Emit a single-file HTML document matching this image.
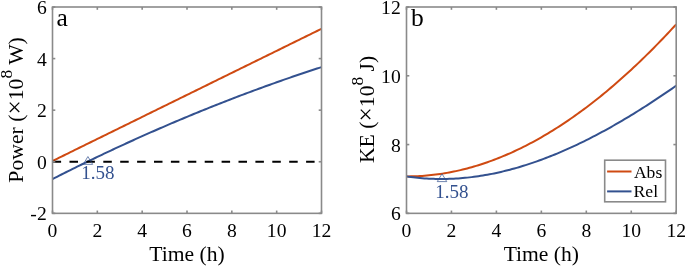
<!DOCTYPE html>
<html><head><meta charset="utf-8"><style>
html,body{margin:0;padding:0;background:#fff;width:685px;height:267px;overflow:hidden;}
svg{display:block;will-change:transform;}
</style></head><body>
<svg width="685" height="267" viewBox="0 0 685 267">
<path d="M52.50 160.99 L54.74 159.89 L56.98 158.79 L59.23 157.68 L61.47 156.58 L63.71 155.48 L65.95 154.38 L68.19 153.28 L70.43 152.18 L72.67 151.07 L74.92 149.97 L77.16 148.87 L79.40 147.77 L81.64 146.67 L83.88 145.57 L86.12 144.46 L88.37 143.36 L90.61 142.26 L92.85 141.16 L95.09 140.06 L97.33 138.96 L99.58 137.85 L101.82 136.75 L104.06 135.65 L106.30 134.55 L108.54 133.45 L110.78 132.35 L113.03 131.25 L115.27 130.14 L117.51 129.04 L119.75 127.94 L121.99 126.84 L124.23 125.74 L126.48 124.64 L128.72 123.53 L130.96 122.43 L133.20 121.33 L135.44 120.23 L137.68 119.13 L139.93 118.03 L142.17 116.92 L144.41 115.82 L146.65 114.72 L148.89 113.62 L151.13 112.52 L153.38 111.42 L155.62 110.31 L157.86 109.21 L160.10 108.11 L162.34 107.01 L164.58 105.91 L166.83 104.81 L169.07 103.71 L171.31 102.60 L173.55 101.50 L175.79 100.40 L178.03 99.30 L180.28 98.20 L182.52 97.10 L184.76 95.99 L187.00 94.89 L189.24 93.79 L191.48 92.69 L193.73 91.59 L195.97 90.49 L198.21 89.38 L200.45 88.28 L202.69 87.18 L204.93 86.08 L207.18 84.98 L209.42 83.88 L211.66 82.77 L213.90 81.67 L216.14 80.57 L218.38 79.47 L220.62 78.37 L222.87 77.27 L225.11 76.16 L227.35 75.06 L229.59 73.96 L231.83 72.86 L234.07 71.76 L236.32 70.66 L238.56 69.56 L240.80 68.45 L243.04 67.35 L245.28 66.25 L247.53 65.15 L249.77 64.05 L252.01 62.95 L254.25 61.84 L256.49 60.74 L258.73 59.64 L260.98 58.54 L263.22 57.44 L265.46 56.34 L267.70 55.23 L269.94 54.13 L272.18 53.03 L274.43 51.93 L276.67 50.83 L278.91 49.73 L281.15 48.62 L283.39 47.52 L285.63 46.42 L287.88 45.32 L290.12 44.22 L292.36 43.12 L294.60 42.02 L296.84 40.91 L299.08 39.81 L301.33 38.71 L303.57 37.61 L305.81 36.51 L308.05 35.41 L310.29 34.30 L312.53 33.20 L314.78 32.10 L317.02 31.00 L319.26 29.90 L321.50 28.80" fill="none" stroke="#CF4A12" stroke-width="2.00"/>
<path d="M52.50 179.04 L54.74 177.91 L56.98 176.77 L59.23 175.64 L61.47 174.51 L63.71 173.38 L65.95 172.26 L68.19 171.14 L70.43 170.03 L72.67 168.92 L74.92 167.81 L77.16 166.70 L79.40 165.60 L81.64 164.51 L83.88 163.41 L86.12 162.32 L88.37 161.23 L90.61 160.15 L92.85 159.07 L95.09 157.99 L97.33 156.92 L99.58 155.85 L101.82 154.78 L104.06 153.72 L106.30 152.66 L108.54 151.61 L110.78 150.55 L113.03 149.50 L115.27 148.46 L117.51 147.42 L119.75 146.38 L121.99 145.34 L124.23 144.31 L126.48 143.28 L128.72 142.26 L130.96 141.24 L133.20 140.22 L135.44 139.21 L137.68 138.19 L139.93 137.19 L142.17 136.18 L144.41 135.18 L146.65 134.19 L148.89 133.19 L151.13 132.20 L153.38 131.22 L155.62 130.23 L157.86 129.25 L160.10 128.28 L162.34 127.30 L164.58 126.33 L166.83 125.37 L169.07 124.41 L171.31 123.45 L173.55 122.49 L175.79 121.54 L178.03 120.59 L180.28 119.65 L182.52 118.71 L184.76 117.77 L187.00 116.83 L189.24 115.90 L191.48 114.97 L193.73 114.05 L195.97 113.13 L198.21 112.21 L200.45 111.30 L202.69 110.39 L204.93 109.48 L207.18 108.58 L209.42 107.68 L211.66 106.78 L213.90 105.89 L216.14 105.00 L218.38 104.11 L220.62 103.23 L222.87 102.35 L225.11 101.48 L227.35 100.60 L229.59 99.73 L231.83 98.87 L234.07 98.01 L236.32 97.15 L238.56 96.29 L240.80 95.44 L243.04 94.59 L245.28 93.75 L247.53 92.91 L249.77 92.07 L252.01 91.24 L254.25 90.41 L256.49 89.58 L258.73 88.76 L260.98 87.94 L263.22 87.12 L265.46 86.31 L267.70 85.50 L269.94 84.69 L272.18 83.89 L274.43 83.09 L276.67 82.29 L278.91 81.50 L281.15 80.71 L283.39 79.92 L285.63 79.14 L287.88 78.36 L290.12 77.59 L292.36 76.82 L294.60 76.05 L296.84 75.28 L299.08 74.52 L301.33 73.77 L303.57 73.01 L305.81 72.26 L308.05 71.51 L310.29 70.77 L312.53 70.03 L314.78 69.29 L317.02 68.56 L319.26 67.83 L321.50 67.10" fill="none" stroke="#33518F" stroke-width="2.00"/>
<line x1="52.60" y1="161.76" x2="321.50" y2="161.76" stroke="#000" stroke-width="2.2" stroke-dasharray="8.5 8.4"/>
<path d="M87.92 156.56 L92.67 164.36 L83.17 164.36 Z" fill="none" stroke="#33518F" stroke-width="0.70"/>
<text x="81.3" y="178.8" style="font-family:'Liberation Serif',serif;font-size:19.00px" fill="#33518F">1.58</text>
<path d="M406.50 176.38 L408.75 176.38 L411.00 176.35 L413.24 176.30 L415.49 176.23 L417.74 176.14 L419.99 176.02 L422.23 175.88 L424.48 175.72 L426.73 175.54 L428.98 175.33 L431.22 175.10 L433.47 174.85 L435.72 174.58 L437.97 174.28 L440.21 173.97 L442.46 173.63 L444.71 173.27 L446.96 172.88 L449.20 172.48 L451.45 172.05 L453.70 171.60 L455.94 171.13 L458.19 170.63 L460.44 170.12 L462.69 169.58 L464.94 169.02 L467.18 168.44 L469.43 167.83 L471.68 167.21 L473.93 166.56 L476.17 165.89 L478.42 165.21 L480.67 164.49 L482.92 163.76 L485.16 163.01 L487.41 162.23 L489.66 161.43 L491.91 160.62 L494.15 159.78 L496.40 158.91 L498.65 158.03 L500.90 157.13 L503.14 156.20 L505.39 155.26 L507.64 154.29 L509.89 153.30 L512.13 152.29 L514.38 151.26 L516.63 150.21 L518.88 149.14 L521.12 148.05 L523.37 146.93 L525.62 145.80 L527.87 144.64 L530.11 143.47 L532.36 142.27 L534.61 141.05 L536.86 139.82 L539.10 138.56 L541.35 137.28 L543.60 135.98 L545.85 134.66 L548.09 133.32 L550.34 131.96 L552.59 130.57 L554.84 129.17 L557.08 127.75 L559.33 126.31 L561.58 124.85 L563.83 123.36 L566.07 121.86 L568.32 120.34 L570.57 118.79 L572.82 117.23 L575.06 115.65 L577.31 114.04 L579.56 112.42 L581.81 110.78 L584.05 109.12 L586.30 107.43 L588.55 105.73 L590.80 104.01 L593.04 102.27 L595.29 100.51 L597.54 98.72 L599.79 96.92 L602.03 95.10 L604.28 93.26 L606.53 91.40 L608.78 89.53 L611.02 87.63 L613.27 85.71 L615.52 83.77 L617.77 81.82 L620.01 79.84 L622.26 77.85 L624.51 75.83 L626.76 73.80 L629.00 71.75 L631.25 69.68 L633.50 67.59 L635.75 65.48 L637.99 63.35 L640.24 61.20 L642.49 59.04 L644.74 56.85 L646.98 54.65 L649.23 52.43 L651.48 50.19 L653.73 47.93 L655.97 45.65 L658.22 43.35 L660.47 41.04 L662.72 38.70 L664.96 36.35 L667.21 33.98 L669.46 31.59 L671.71 29.18 L673.95 26.76 L676.20 24.31" fill="none" stroke="#CF4A12" stroke-width="2.00"/>
<path d="M406.50 176.38 L408.75 176.71 L411.00 177.02 L413.24 177.31 L415.49 177.57 L417.74 177.81 L419.99 178.03 L422.23 178.22 L424.48 178.40 L426.73 178.55 L428.98 178.68 L431.22 178.79 L433.47 178.87 L435.72 178.94 L437.97 178.98 L440.21 179.00 L442.46 179.00 L444.71 178.98 L446.96 178.94 L449.20 178.87 L451.45 178.79 L453.70 178.68 L455.94 178.56 L458.19 178.41 L460.44 178.25 L462.69 178.06 L464.94 177.86 L467.18 177.63 L469.43 177.38 L471.68 177.12 L473.93 176.83 L476.17 176.53 L478.42 176.20 L480.67 175.86 L482.92 175.50 L485.16 175.11 L487.41 174.71 L489.66 174.29 L491.91 173.86 L494.15 173.40 L496.40 172.92 L498.65 172.43 L500.90 171.92 L503.14 171.39 L505.39 170.84 L507.64 170.27 L509.89 169.69 L512.13 169.09 L514.38 168.47 L516.63 167.84 L518.88 167.18 L521.12 166.51 L523.37 165.83 L525.62 165.12 L527.87 164.40 L530.11 163.66 L532.36 162.91 L534.61 162.14 L536.86 161.35 L539.10 160.55 L541.35 159.73 L543.60 158.90 L545.85 158.04 L548.09 157.18 L550.34 156.30 L552.59 155.40 L554.84 154.49 L557.08 153.56 L559.33 152.61 L561.58 151.66 L563.83 150.68 L566.07 149.70 L568.32 148.69 L570.57 147.68 L572.82 146.64 L575.06 145.60 L577.31 144.54 L579.56 143.47 L581.81 142.38 L584.05 141.28 L586.30 140.16 L588.55 139.03 L590.80 137.89 L593.04 136.73 L595.29 135.56 L597.54 134.38 L599.79 133.19 L602.03 131.98 L604.28 130.76 L606.53 129.53 L608.78 128.28 L611.02 127.02 L613.27 125.75 L615.52 124.47 L617.77 123.17 L620.01 121.87 L622.26 120.55 L624.51 119.22 L626.76 117.88 L629.00 116.53 L631.25 115.16 L633.50 113.79 L635.75 112.40 L637.99 111.00 L640.24 109.59 L642.49 108.18 L644.74 106.75 L646.98 105.31 L649.23 103.86 L651.48 102.39 L653.73 100.92 L655.97 99.44 L658.22 97.95 L660.47 96.45 L662.72 94.94 L664.96 93.42 L667.21 91.89 L669.46 90.35 L671.71 88.81 L673.95 87.25 L676.20 85.68" fill="none" stroke="#33518F" stroke-width="2.00"/>
<path d="M442.01 173.80 L446.76 181.60 L437.26 181.60 Z" fill="none" stroke="#33518F" stroke-width="0.70"/>
<text x="435.3" y="198.3" style="font-family:'Liberation Serif',serif;font-size:19.00px" fill="#33518F">1.58</text>
<rect x="52.50" y="7.00" width="269.00" height="206.35" fill="none" stroke="#8a8a8a" stroke-width="1.60"/>
<line x1="52.50" y1="213.35" x2="52.50" y2="210.55" stroke="#8a8a8a" stroke-width="1.60"/>
<line x1="52.50" y1="7.00" x2="52.50" y2="9.80" stroke="#8a8a8a" stroke-width="1.60"/>
<text x="52.50" y="237.10" text-anchor="middle" style="font-family:'Liberation Serif',serif;font-size:19.60px">0</text>
<line x1="97.33" y1="213.35" x2="97.33" y2="210.55" stroke="#8a8a8a" stroke-width="1.60"/>
<line x1="97.33" y1="7.00" x2="97.33" y2="9.80" stroke="#8a8a8a" stroke-width="1.60"/>
<text x="97.33" y="237.10" text-anchor="middle" style="font-family:'Liberation Serif',serif;font-size:19.60px">2</text>
<line x1="142.17" y1="213.35" x2="142.17" y2="210.55" stroke="#8a8a8a" stroke-width="1.60"/>
<line x1="142.17" y1="7.00" x2="142.17" y2="9.80" stroke="#8a8a8a" stroke-width="1.60"/>
<text x="142.17" y="237.10" text-anchor="middle" style="font-family:'Liberation Serif',serif;font-size:19.60px">4</text>
<line x1="187.00" y1="213.35" x2="187.00" y2="210.55" stroke="#8a8a8a" stroke-width="1.60"/>
<line x1="187.00" y1="7.00" x2="187.00" y2="9.80" stroke="#8a8a8a" stroke-width="1.60"/>
<text x="187.00" y="237.10" text-anchor="middle" style="font-family:'Liberation Serif',serif;font-size:19.60px">6</text>
<line x1="231.83" y1="213.35" x2="231.83" y2="210.55" stroke="#8a8a8a" stroke-width="1.60"/>
<line x1="231.83" y1="7.00" x2="231.83" y2="9.80" stroke="#8a8a8a" stroke-width="1.60"/>
<text x="231.83" y="237.10" text-anchor="middle" style="font-family:'Liberation Serif',serif;font-size:19.60px">8</text>
<line x1="276.67" y1="213.35" x2="276.67" y2="210.55" stroke="#8a8a8a" stroke-width="1.60"/>
<line x1="276.67" y1="7.00" x2="276.67" y2="9.80" stroke="#8a8a8a" stroke-width="1.60"/>
<text x="276.67" y="237.10" text-anchor="middle" style="font-family:'Liberation Serif',serif;font-size:19.60px">10</text>
<line x1="321.50" y1="213.35" x2="321.50" y2="210.55" stroke="#8a8a8a" stroke-width="1.60"/>
<line x1="321.50" y1="7.00" x2="321.50" y2="9.80" stroke="#8a8a8a" stroke-width="1.60"/>
<text x="321.50" y="237.10" text-anchor="middle" style="font-family:'Liberation Serif',serif;font-size:19.60px">12</text>
<line x1="52.50" y1="213.35" x2="55.30" y2="213.35" stroke="#8a8a8a" stroke-width="1.60"/>
<line x1="321.50" y1="213.35" x2="318.70" y2="213.35" stroke="#8a8a8a" stroke-width="1.60"/>
<text x="46.70" y="220.45" text-anchor="end" style="font-family:'Liberation Serif',serif;font-size:19.60px">-2</text>
<line x1="52.50" y1="161.76" x2="55.30" y2="161.76" stroke="#8a8a8a" stroke-width="1.60"/>
<line x1="321.50" y1="161.76" x2="318.70" y2="161.76" stroke="#8a8a8a" stroke-width="1.60"/>
<text x="46.70" y="168.86" text-anchor="end" style="font-family:'Liberation Serif',serif;font-size:19.60px">0</text>
<line x1="52.50" y1="110.17" x2="55.30" y2="110.17" stroke="#8a8a8a" stroke-width="1.60"/>
<line x1="321.50" y1="110.17" x2="318.70" y2="110.17" stroke="#8a8a8a" stroke-width="1.60"/>
<text x="46.70" y="117.27" text-anchor="end" style="font-family:'Liberation Serif',serif;font-size:19.60px">2</text>
<line x1="52.50" y1="58.59" x2="55.30" y2="58.59" stroke="#8a8a8a" stroke-width="1.60"/>
<line x1="321.50" y1="58.59" x2="318.70" y2="58.59" stroke="#8a8a8a" stroke-width="1.60"/>
<text x="46.70" y="65.69" text-anchor="end" style="font-family:'Liberation Serif',serif;font-size:19.60px">4</text>
<line x1="52.50" y1="7.00" x2="55.30" y2="7.00" stroke="#8a8a8a" stroke-width="1.60"/>
<line x1="321.50" y1="7.00" x2="318.70" y2="7.00" stroke="#8a8a8a" stroke-width="1.60"/>
<text x="46.70" y="14.10" text-anchor="end" style="font-family:'Liberation Serif',serif;font-size:19.60px">6</text>
<text x="187.00" y="261.00" text-anchor="middle" style="font-family:'Liberation Serif',serif;font-size:21.60px">Time (h)</text>
<rect x="406.50" y="7.00" width="269.70" height="206.35" fill="none" stroke="#8a8a8a" stroke-width="1.60"/>
<line x1="406.50" y1="213.35" x2="406.50" y2="210.55" stroke="#8a8a8a" stroke-width="1.60"/>
<line x1="406.50" y1="7.00" x2="406.50" y2="9.80" stroke="#8a8a8a" stroke-width="1.60"/>
<text x="406.50" y="237.10" text-anchor="middle" style="font-family:'Liberation Serif',serif;font-size:19.60px">0</text>
<line x1="451.45" y1="213.35" x2="451.45" y2="210.55" stroke="#8a8a8a" stroke-width="1.60"/>
<line x1="451.45" y1="7.00" x2="451.45" y2="9.80" stroke="#8a8a8a" stroke-width="1.60"/>
<text x="451.45" y="237.10" text-anchor="middle" style="font-family:'Liberation Serif',serif;font-size:19.60px">2</text>
<line x1="496.40" y1="213.35" x2="496.40" y2="210.55" stroke="#8a8a8a" stroke-width="1.60"/>
<line x1="496.40" y1="7.00" x2="496.40" y2="9.80" stroke="#8a8a8a" stroke-width="1.60"/>
<text x="496.40" y="237.10" text-anchor="middle" style="font-family:'Liberation Serif',serif;font-size:19.60px">4</text>
<line x1="541.35" y1="213.35" x2="541.35" y2="210.55" stroke="#8a8a8a" stroke-width="1.60"/>
<line x1="541.35" y1="7.00" x2="541.35" y2="9.80" stroke="#8a8a8a" stroke-width="1.60"/>
<text x="541.35" y="237.10" text-anchor="middle" style="font-family:'Liberation Serif',serif;font-size:19.60px">6</text>
<line x1="586.30" y1="213.35" x2="586.30" y2="210.55" stroke="#8a8a8a" stroke-width="1.60"/>
<line x1="586.30" y1="7.00" x2="586.30" y2="9.80" stroke="#8a8a8a" stroke-width="1.60"/>
<text x="586.30" y="237.10" text-anchor="middle" style="font-family:'Liberation Serif',serif;font-size:19.60px">8</text>
<line x1="631.25" y1="213.35" x2="631.25" y2="210.55" stroke="#8a8a8a" stroke-width="1.60"/>
<line x1="631.25" y1="7.00" x2="631.25" y2="9.80" stroke="#8a8a8a" stroke-width="1.60"/>
<text x="631.25" y="237.10" text-anchor="middle" style="font-family:'Liberation Serif',serif;font-size:19.60px">10</text>
<line x1="676.20" y1="213.35" x2="676.20" y2="210.55" stroke="#8a8a8a" stroke-width="1.60"/>
<line x1="676.20" y1="7.00" x2="676.20" y2="9.80" stroke="#8a8a8a" stroke-width="1.60"/>
<text x="676.20" y="237.10" text-anchor="middle" style="font-family:'Liberation Serif',serif;font-size:19.60px">12</text>
<line x1="406.50" y1="213.35" x2="409.30" y2="213.35" stroke="#8a8a8a" stroke-width="1.60"/>
<line x1="676.20" y1="213.35" x2="673.40" y2="213.35" stroke="#8a8a8a" stroke-width="1.60"/>
<text x="400.70" y="220.45" text-anchor="end" style="font-family:'Liberation Serif',serif;font-size:19.60px">6</text>
<line x1="406.50" y1="144.57" x2="409.30" y2="144.57" stroke="#8a8a8a" stroke-width="1.60"/>
<line x1="676.20" y1="144.57" x2="673.40" y2="144.57" stroke="#8a8a8a" stroke-width="1.60"/>
<text x="400.70" y="151.67" text-anchor="end" style="font-family:'Liberation Serif',serif;font-size:19.60px">8</text>
<line x1="406.50" y1="75.78" x2="409.30" y2="75.78" stroke="#8a8a8a" stroke-width="1.60"/>
<line x1="676.20" y1="75.78" x2="673.40" y2="75.78" stroke="#8a8a8a" stroke-width="1.60"/>
<text x="400.70" y="82.88" text-anchor="end" style="font-family:'Liberation Serif',serif;font-size:19.60px">10</text>
<line x1="406.50" y1="7.00" x2="409.30" y2="7.00" stroke="#8a8a8a" stroke-width="1.60"/>
<line x1="676.20" y1="7.00" x2="673.40" y2="7.00" stroke="#8a8a8a" stroke-width="1.60"/>
<text x="400.70" y="14.10" text-anchor="end" style="font-family:'Liberation Serif',serif;font-size:19.60px">12</text>
<text x="541.35" y="261.00" text-anchor="middle" style="font-family:'Liberation Serif',serif;font-size:21.60px">Time (h)</text>
<text transform="translate(23.00,109.90) rotate(-90)" text-anchor="middle" style="font-family:'Liberation Serif',serif;font-size:21.70px">Power (<tspan style="font-size:25.39px">×</tspan>10<tspan dy="-11.30" style="font-size:17.36px">8</tspan><tspan dy="11.30"> W)</tspan></text>
<text transform="translate(374.30,109.40) rotate(-90)" text-anchor="middle" style="font-family:'Liberation Serif',serif;font-size:21.70px">KE (<tspan style="font-size:25.39px">×</tspan>10<tspan dy="-11.30" style="font-size:17.36px">8</tspan><tspan dy="11.30"> J)</tspan></text>
<text x="56.4" y="25.6" style="font-family:'Liberation Serif',serif;font-size:25.50px">a</text>
<text x="411.0" y="25.6" style="font-family:'Liberation Serif',serif;font-size:25.50px">b</text>
<rect x="604.7" y="160.2" width="60.8" height="41.6" fill="#fff" stroke="#8a8a8a" stroke-width="1.60"/>
<line x1="607.1" y1="171.5" x2="631.5" y2="171.5" stroke="#CF4A12" stroke-width="2.00"/>
<line x1="607.1" y1="191.4" x2="631.5" y2="191.4" stroke="#33518F" stroke-width="2.00"/>
<text x="633.9" y="177.6" style="font-family:'Liberation Serif',serif;font-size:17.60px">Abs</text>
<text x="633.6" y="197.0" style="font-family:'Liberation Serif',serif;font-size:17.60px">Rel</text>
</svg>
</body></html>
